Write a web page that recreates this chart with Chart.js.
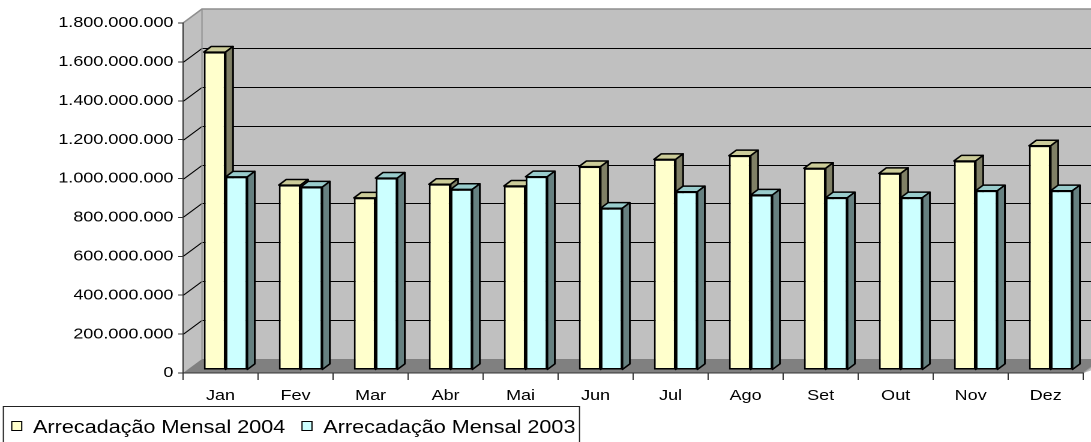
<!DOCTYPE html>
<html><head><meta charset="utf-8">
<script src="https://cdn.jsdelivr.net/npm/chart.js@4.4.1/dist/chart.umd.min.js"></script>
<style>
html,body{margin:0;padding:0;background:#fff;overflow:hidden;}
#wrap{position:absolute;left:0;top:0;width:909px;height:442px;transform:scaleX(1.2002);transform-origin:0 0;}
</style></head><body>
<div id="wrap"><canvas id="c"></canvas></div>
<script>
// ---- data ----
const categories = ['Jan','Fev','Mar','Abr','Mai','Jun','Jul','Ago','Set','Out','Nov','Dez'];
const seriesLabels = ['Arrecadação Mensal 2004','Arrecadação Mensal 2003'];
const values2004 = [1635000000, 951000000, 885000000, 955000000, 946000000, 1046000000, 1083000000, 1102000000, 1037000000, 1011000000, 1075000000, 1153000000];
const values2003 = [993000000, 941000000, 987000000, 929000000, 994000000, 832000000, 917000000, 900000000, 886000000, 886000000, 922000000, 922000000];
const yTickValues = [0, 200000000, 400000000, 600000000, 800000000, 1000000000, 1200000000, 1400000000, 1600000000, 1800000000];

// ---- styling ----
const FONT = '"Liberation Sans", Arial, sans-serif';
const wallDX = 15.8, wallDY = -14;
const barDX = 6.2, barDY = -5.6;
const barShiftX = 4.2, barShiftY = -3;
const faceColors = [
  {front:'#FFFFCC', top:'#CCCC99', side:'#808066'},
  {front:'#CCFFFF', top:'#99CCCC', side:'#668080'}
];

function fmt(v){ return String(Math.round(v)).replace(/\B(?=(\d{3})+(?!\d))/g, '.'); }

Chart.defaults.font.family = FONT;

const wallPlugin = {
  id:'walls',
  beforeDraw(chart){
    const {ctx, chartArea:a, scales:{y}} = chart;
    ctx.save();
    ctx.fillStyle = '#C0C0C0';
    ctx.beginPath();
    ctx.moveTo(a.left, a.top);
    ctx.lineTo(a.left+wallDX, a.top+wallDY);
    ctx.lineTo(a.right+wallDX+20, a.top+wallDY);
    ctx.lineTo(a.right+wallDX+20, a.bottom+wallDY);
    ctx.lineTo(a.right, a.bottom);
    ctx.lineTo(a.left, a.bottom);
    ctx.closePath(); ctx.fill();
    // floor
    ctx.fillStyle = '#808080';
    ctx.beginPath();
    ctx.moveTo(a.left, a.bottom);
    ctx.lineTo(a.left+wallDX, a.bottom+wallDY);
    ctx.lineTo(a.right+wallDX, a.bottom+wallDY);
    ctx.lineTo(a.right, a.bottom);
    ctx.closePath(); ctx.fill();
    // gridlines
    ctx.strokeStyle = '#000'; ctx.lineWidth = 1;
    yTickValues.forEach(v => {
      if (v <= 0 || v >= yTickValues[yTickValues.length-1]) return;
      const py = Math.round(y.getPixelForValue(v)) + 0.5;
      ctx.beginPath();
      ctx.moveTo(a.left, py);
      ctx.lineTo(a.left+wallDX, py+wallDY);
      ctx.lineTo(a.right+wallDX+20, py+wallDY);
      ctx.stroke();
    });
    // wall edges
    ctx.strokeStyle = '#8f8f8f'; ctx.lineWidth = 1.5;
    ctx.beginPath();
    ctx.moveTo(a.left, a.top);
    ctx.lineTo(a.left+wallDX, a.top+wallDY);
    ctx.lineTo(a.right+wallDX+20, a.top+wallDY);
    ctx.stroke();
    ctx.lineWidth = 1;
    ctx.beginPath();
    ctx.moveTo(a.left+wallDX, a.top+wallDY);
    ctx.lineTo(a.left+wallDX, a.bottom+wallDY);
    ctx.stroke();
    ctx.strokeStyle = '#a0a0a0';
    ctx.beginPath();
    ctx.moveTo(a.right, a.bottom);
    ctx.lineTo(a.right+wallDX, a.bottom+wallDY);
    ctx.stroke();
    ctx.restore();
  }
};

// Tops and sides of every bar are drawn before the library draws the front faces,
// so a neighbouring bar's front face hides what lies behind it.
const bar3dPlugin = {
  id:'bar3d',
  beforeDatasetsDraw(chart){
    const ctx = chart.ctx;
    ctx.save();
    ctx.translate(barShiftX, barShiftY);
    ctx.save();
    ctx.lineWidth = 1.5; ctx.strokeStyle = '#000'; ctx.lineJoin = 'round';
    chart.data.datasets.forEach((ds, i) => {
      const meta = chart.getDatasetMeta(i);
      const fc = faceColors[i];
      meta.data.forEach(el => {
        const {x, y, base, width} = el.getProps(['x','y','base','width'], true);
        const L = x - width/2, R = x + width/2;
        ctx.beginPath();
        ctx.moveTo(L, y); ctx.lineTo(L+barDX, y+barDY); ctx.lineTo(R+barDX, y+barDY); ctx.lineTo(R, y);
        ctx.closePath(); ctx.fillStyle = fc.top; ctx.fill(); ctx.stroke();
        ctx.beginPath();
        ctx.moveTo(R, y); ctx.lineTo(R+barDX, y+barDY); ctx.lineTo(R+barDX, base+barDY); ctx.lineTo(R, base);
        ctx.closePath(); ctx.fillStyle = fc.side; ctx.fill(); ctx.stroke();
      });
    });
    ctx.restore();
  },
  afterDatasetsDraw(chart){ chart.ctx.restore(); }
};

const legendPlugin = {
  id:'legendBox',
  afterDraw(chart){
    const ctx = chart.ctx;
    ctx.save();
    ctx.font = '18px ' + FONT;
    ctx.textBaseline = 'alphabetic';
    ctx.lineWidth = 1;
    const boxLeft = 2.8, boxTop = 406.5;
    let x = 9.8;
    chart.data.datasets.forEach((ds, i) => {
      ctx.fillStyle = ds.backgroundColor;
      ctx.fillRect(x, 421.5, 8.3, 9);
      ctx.strokeStyle = '#000';
      ctx.strokeRect(x, 421.5, 8.3, 9);
      ctx.fillStyle = '#000';
      ctx.fillText(ds.label, x + 17.7, 433);
      x += 17.7 + ctx.measureText(ds.label).width + 14;
    });
    const right = x - 14 + 3.4;
    ctx.strokeStyle = '#222';
    ctx.strokeRect(boxLeft, boxTop, right - boxLeft, 60);
    ctx.restore();
  }
};

new Chart(document.getElementById('c'), {
  type:'bar',
  data:{
    labels: categories,
    datasets:[
      {label: seriesLabels[0], data: values2004, backgroundColor: faceColors[0].front, borderColor:'#000', borderWidth:1.5, borderSkipped:false, categoryPercentage:0.58, barPercentage:1.0, clip:false},
      {label: seriesLabels[1], data: values2003, backgroundColor: faceColors[1].front, borderColor:'#000', borderWidth:1.5, borderSkipped:false, categoryPercentage:0.58, barPercentage:1.0, clip:false}
    ]
  },
  options:{
    responsive:true, maintainAspectRatio:false, animation:false, devicePixelRatio:2,
    layout:{padding:{top:23, right:6.5, bottom:39, left:0}},
    plugins:{legend:{display:false}, tooltip:{enabled:false}},
    scales:{
      x:{
        grid:{display:true, drawOnChartArea:false, drawTicks:true, tickLength:7, color:'#333', offset:true},
        border:{display:true, color:'#333', width:1},
        ticks:{color:'#000', font:{size:15, family:FONT}, padding:7, maxRotation:0, autoSkip:false},
        afterFit(s){ s.height = 30; }
      },
      y:{
        min:0, max:yTickValues[yTickValues.length-1],
        afterBuildTicks(s){ s.ticks = yTickValues.map(v => ({value:v})); },
        grid:{display:true, drawOnChartArea:false, drawTicks:true, tickLength:4, color:'#333'},
        border:{display:true, color:'#333', width:1},
        ticks:{color:'#000', font:{size:15, family:FONT}, padding:4, callback:v => fmt(v)},
        afterFit(s){ s.width = 152.5; }
      }
    }
  },
  plugins:[wallPlugin, bar3dPlugin, legendPlugin]
});
</script>
</body></html>
